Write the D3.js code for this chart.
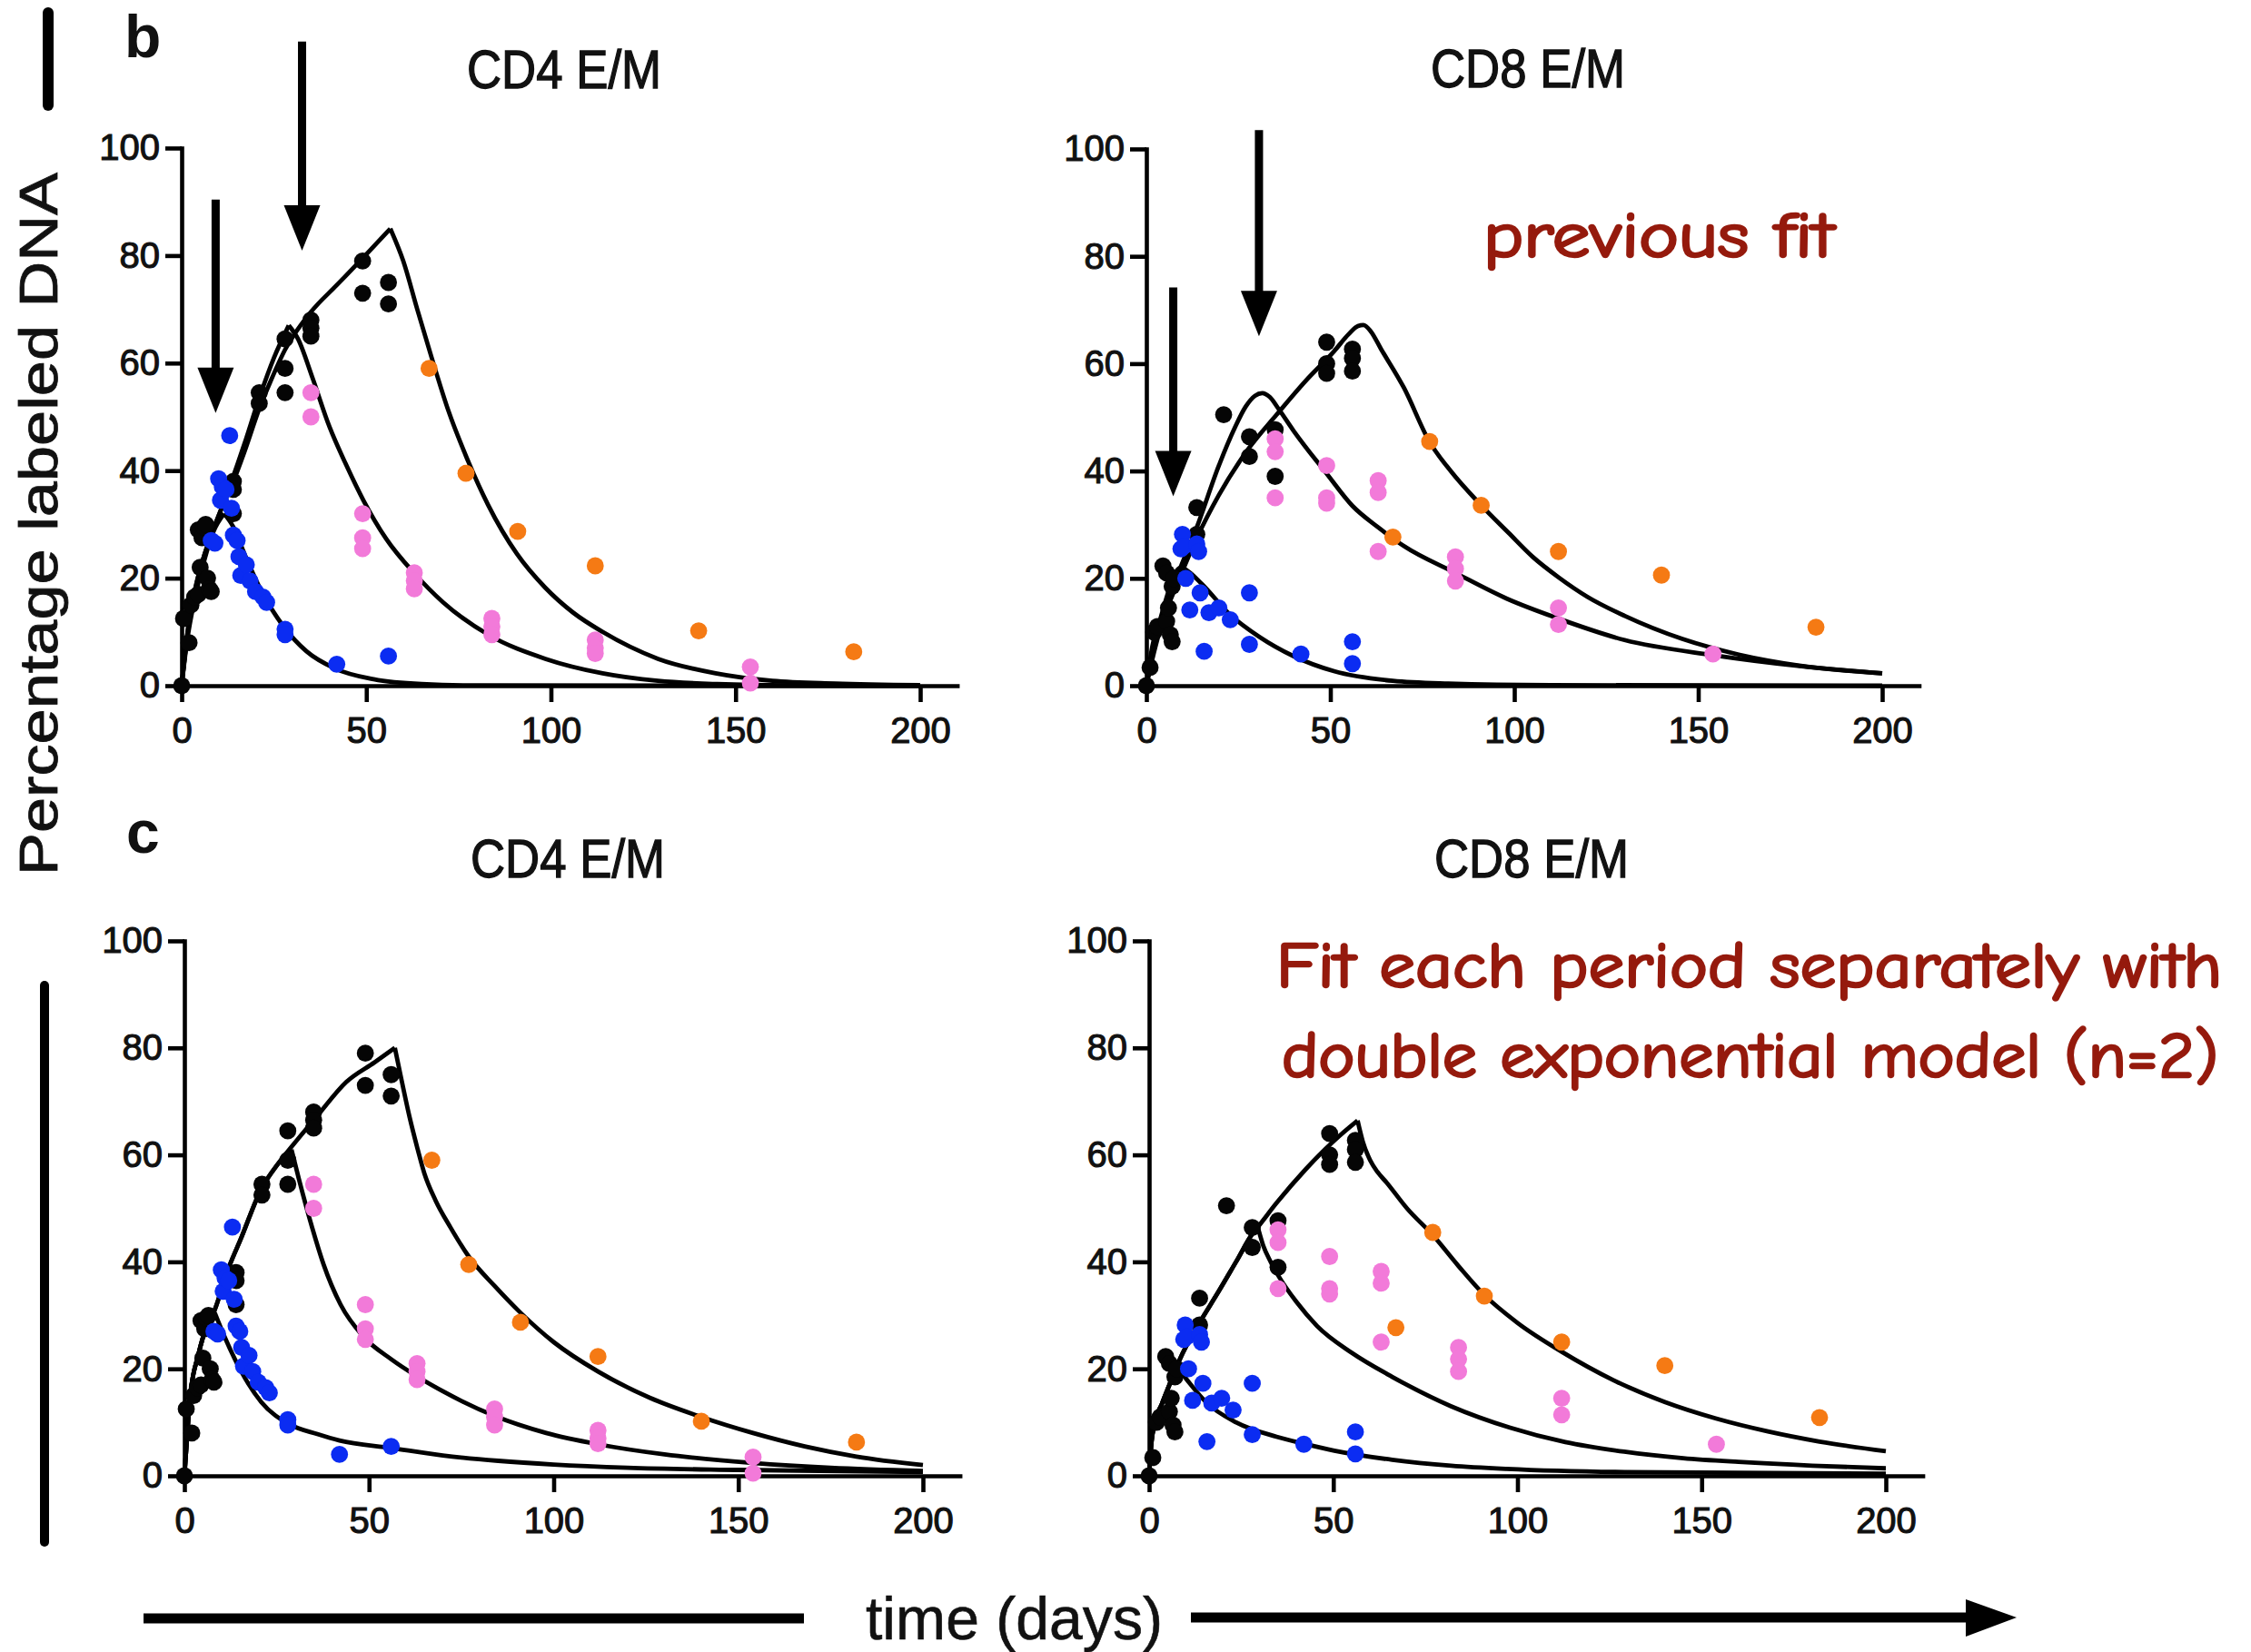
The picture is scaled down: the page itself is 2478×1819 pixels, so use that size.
<!DOCTYPE html>
<html>
<head>
<meta charset="utf-8">
<script src="https://cdn.jsdelivr.net/npm/d3@7"></script>
<style>
  html, body { margin: 0; padding: 0; background: #fff; }
  svg { display: block; }
</style>
</head>
<body>
<svg id="fig" width="2478" height="1819"></svg>
<script>
// ---------- axis ticks ----------
const xTicks = [0, 50, 100, 150, 200];
const yTicks = [0, 20, 40, 60, 80, 100];

// ---------- measured labelled-DNA fractions: [day, % labelled] ----------
// CD4 effector/memory
const cd4Black = [[0,0],[0.5,12.5],[2,8],[2.5,15],[3.5,16.5],[4.5,17],[4.5,29],[5,22],[5.5,27.5],[6,29.5],[6.5,30],
  [7,20],[7.5,18],[8,17.5],[14,38],[14,36.5],[14,32],[21,54.5],[21,52.5],[28,64.5],[28,59],[28,54.5],
  [35,68],[35,66.5],[35,65],[49,79],[49,73],[56,75],[56,71]];
const cd4Blue = [[8,27],[9,26.5],[10,38.5],[10.5,34.5],[11,37],[12,36.5],[13,46.5],[13.5,33],[14,28],[15,27],
  [15.5,24],[16,20.5],[17.5,22.5],[18.5,19.5],[20,17.5],[22,16.5],[23,15.5],[28,10.5],[28,9.5],[42,4],[56,5.5]];
const cd4Pink = [[35,54.5],[35,50],[49,32],[49,27.5],[49,25.5],[63,21],[63,19.5],[63,18],[84,12.5],[84,11],[84,9.5],
  [112,8.5],[112,7],[112,6],[154,3.5],[154,0.5]];
const cd4Orange = [[67,59],[77,39.5],[91,28.7],[112,22.3],[140,10.2],[182,6.3]];

// CD8 effector/memory
const cd8Black = [[0,0],[1,3.4],[2,10],[3,11],[4.5,22.3],[5.5,12],[5.5,21],[6,14.5],[6.5,9.5],[7,8.2],[7,18.5],[7.5,20],
  [13.7,33.2],[13.7,28.2],[21,50.5],[28,46.4],[28,42.7],[35,47.7],[35,39],[49,64],[49,60],[49,58.2],
  [56,62.7],[56,61],[56,58.6]];
const cd8Blue = [[9.4,25.5],[9.8,28.2],[10.2,26],[10.7,20],[11.8,14.1],[13.7,26.4],[14.2,25],[14.6,17.3],[15.7,6.4],
  [17,13.6],[19.7,14.5],[22.8,12.3],[28,17.3],[28,7.7],[42,5.9],[56,8.2],[56,4.1]];
const cd8Pink = [[35,46],[35,43.6],[35,35],[49,41],[49,35],[49,34],[63,38.2],[63,36],[63,25],[84,24],[84,21.8],[84,19.5],
  [112,14.5],[112,11.4],[154,5.9]];
const cd8Orange = [[67,27.7],[77,45.5],[91,33.6],[112,25],[140,20.6],[182,10.9]];

// ---------- model curves: [day, % labelled] ----------
// previous fit, CD4
const cd4PrevFit1 = [[0,0],[1.5,8.5],[3.5,16],[6,23],[8.5,28.5],[11.5,32],[14,29.5],[17,24.5],[21.5,17.7],[27.7,10.9],
  [33.8,6.4],[41.5,3.2],[52,1.2],[65,0.3],[80,0.05],[200,0]];
const cd4PrevFit2 = [[0,0],[2,12],[4,19],[6,24],[8,28],[10.8,33],[14,39],[17,45],[21,53.5],[25,61],[29,67],
  [31.5,64.5],[35.4,57.3],[40,48.2],[44.6,41],[49.2,34.5],[55.4,27.3],[63,20.9],[70.8,15.5],[83,9.5],[98.5,5],
  [114,2.3],[129,0.9],[145,0.3],[165,0.05],[200,0]];
const cd4PrevFit3 = [[0,0],[2,12],[4,19],[6,24],[8,28],[10.8,33],[14,38],[17,43.5],[21,51.5],[24,56.5],[28,62.5],
  [35,69.5],[42,74.5],[49,79.5],[56.5,85],[60,79],[63.8,70],[67.7,61],[72.3,51],[77,42.7],[83,33.6],[90.8,24.5],
  [98.5,18.2],[106,13.6],[114,10],[129,5],[144.6,2.3],[160,0.9],[177,0.4],[200,0.1]];

// previous fit, CD8
const cd8PrevFit1 = [[0,0],[1.6,7.3],[3.9,12.7],[6.3,18.2],[8.3,21.5],[9.5,22],[11,21.5],[15,19],[22.8,13.2],
  [30.7,9.1],[40,5.5],[51,2.7],[67,0.9],[82,0.4],[110,0.1],[200,0]];
const cd8PrevFit2 = [[0,0],[2,7],[4,12],[8.7,21],[13.7,29.5],[19.7,41],[24,48],[27,52],[29.5,54],[31.5,54.5],
  [33.5,53.8],[36,51.5],[40,47.5],[49,39.5],[56,33.5],[63,29.5],[70,26],[84,21],[98,16.2],[112,12.5],[130,8.5],
  [154,5.7],[177,3.7],[200,2.3]];
const cd8PrevFit3 = [[0,0],[2,6],[3.9,10.9],[8.7,19.5],[13.7,27.5],[19.7,35.5],[27.6,44],[35.4,50.5],[43.3,56.8],
  [51,62.3],[55,65.5],[57.5,67],[59,67.2],[61,66],[63.8,62.7],[70,55.5],[76.9,45.5],[82.7,40],[91,33.6],
  [98.4,28.5],[105,24],[112,20.2],[120,16.5],[130,13],[145.7,8.7],[161,5.8],[177,3.8],[200,2.3]];

// separate double-exponential fits, CD4
const cd4NewFit1 = [[0,0],[0.8,8],[1.5,14.5],[3.8,22.7],[6.2,28.2],[8.2,30.5],[11,25.8],[15.4,19.5],[20.8,13.8],
  [28.5,9.6],[36,7.8],[42,6.6],[56,5.2],[70,3.8],[85,2.8],[100,2.1],[120,1.5],[150,1.1],[200,0.7]];
const cd4NewFit2 = [[0,0],[0.8,8],[1.5,14.5],[3.8,22.7],[6.2,28.2],[8.2,31],[11.5,38],[15.4,44.5],[20.8,53.6],
  [25,58],[29,61],[31,55.5],[34.6,46.4],[37.7,39.5],[42.3,32],[48.5,26],[56,21.8],[63,18.6],[70,15.8],[84,11.2],
  [98,8],[112,5.9],[130,4],[154,2.4],[175,1.5],[200,0.9]];
const cd4NewFit3 = [[0,0],[0.8,8],[1.5,14.5],[3.8,22.7],[6.2,28.2],[8.2,31],[11.5,38],[15.4,44.5],[20.8,53.6],
  [25,58],[29,61.5],[36,67.3],[43.8,73.6],[51.5,77.3],[57,80],[58.5,75],[61,67],[63,61.5],[65,56.5],[68,51.5],
  [72,46.5],[77,41],[84,35.5],[91,30.5],[100,25],[112,19.5],[126,14.6],[140,11],[154,8],[168,5.5],[182,3.6],[200,2]];

// separate double-exponential fits, CD8
const cd8NewFit1 = [[0,0],[0.6,6],[1.6,10],[3.5,13.5],[5.5,17],[7.5,20.5],[11,17.3],[15.7,13.6],[23.6,10],
  [34.6,7.3],[42,6],[50.3,4.7],[66,3],[82,1.9],[97,1.3],[129,0.7],[200,0.4]];
const cd8NewFit2 = [[0,0],[0.6,6],[1.6,10],[3.5,13.5],[5.5,17],[7.5,20.5],[11,25.5],[14,29],[18.9,34.5],[23.6,40],
  [28.3,45.5],[29.5,46.5],[31,43],[33,40],[35,37.5],[40,32.5],[45.6,28],[55,23],[66,18.5],[82,13],[98,9],
  [113,6.3],[129,4.5],[145,3.3],[160,2.6],[180,1.9],[200,1.4]];
const cd8NewFit3 = [[0,0],[0.6,6],[1.6,10],[3.5,13.5],[5.5,17],[7.5,20.5],[11,25.5],[14,29],[18.9,34.5],[23.6,40],
  [28.3,45.5],[29.5,46.5],[34.6,51],[42.5,57.3],[50.3,62.7],[56.6,66.4],[58,62.5],[60,59],[62,56.8],[64.5,54.8],
  [70,50],[77,45],[84,39.2],[91,33.8],[100,28.6],[112,23.2],[126,17.9],[140,13.8],[154,10.7],[168,8.3],
  [182,6.4],[200,4.6]];

// arrows marking the labelling periods: [day, top value, tip value]
const cd4Arrows = [[9.2, 90.4, 50.7], [32.6, 119.8, 80.9]];
const cd8Arrows = [[7.3, 74.2, 35.3], [30.6, 103.5, 65.1]];

// ---------- styling ----------
const seriesColors = ['#050505', '#0b2cf2', '#f27ad9', '#f57a14'];
const sansFont = "'Liberation Sans', Arial, Helvetica, sans-serif";
const noteFont = "'Comic Sans MS', 'Comic Neue', 'Noto Sans', sans-serif";
const noteColor = '#951a0d';
const inkColor = '#111';

const svg = d3.select('#fig');
svg.append('rect').attr('width', 2478).attr('height', 1819).attr('fill', '#fff');

const cd4Series = [cd4Black, cd4Blue, cd4Pink, cd4Orange];
const cd8Series = [cd8Black, cd8Blue, cd8Pink, cd8Orange];

const panels = [
  { x0: 200,  x200: 1013, y0: 755,  y100: 163,  title: 'CD4 E/M', titleX: 621,  titleY: 97,
    series: cd4Series, fits: [cd4PrevFit1, cd4PrevFit2, cd4PrevFit3], sharp: true,  arrows: cd4Arrows },
  { x0: 1262, x200: 2072, y0: 755,  y100: 164,  title: 'CD8 E/M', titleX: 1682, titleY: 96,
    series: cd8Series, fits: [cd8PrevFit1, cd8PrevFit2, cd8PrevFit3], sharp: false, arrows: cd8Arrows },
  { x0: 203,  x200: 1016, y0: 1625, y100: 1036, title: 'CD4 E/M', titleX: 625,  titleY: 966,
    series: cd4Series, fits: [cd4NewFit1, cd4NewFit2, cd4NewFit3], sharp: true,  arrows: [] },
  { x0: 1265, x200: 2076, y0: 1625, y100: 1036, title: 'CD8 E/M', titleX: 1686, titleY: 966,
    series: cd8Series, fits: [cd8NewFit1, cd8NewFit2, cd8NewFit3], sharp: true,  arrows: [] }
];

const AXIS_W = 4.6;

// slightly heavier text strokes, like the printed Arial
function ink(sel, w) {
  return sel.attr('fill', inkColor).attr('stroke', inkColor).attr('stroke-width', w).attr('paint-order', 'stroke');
}

panels.forEach(p => {
  const x = d3.scaleLinear().domain([0, 210]).range([p.x0, p.x0 + (p.x200 - p.x0) * 1.05]);
  const y = d3.scaleLinear().domain([0, 100]).range([p.y0, p.y100]);
  const g = svg.append('g');

  // title
  ink(g.append('text')
    .attr('x', p.titleX).attr('y', p.titleY)
    .attr('text-anchor', 'middle')
    .attr('font-family', sansFont).attr('font-size', 59)
    .attr('textLength', 214).attr('lengthAdjust', 'spacingAndGlyphs')
    .text(p.title), 1.3);

  // fitted curves (drawn beneath the data points)
  const line = d3.line().x(d => x(d[0])).y(d => y(d[1])).curve(d3.curveMonotoneX);
  p.fits.forEach(fit => {
    let parts = [fit];
    if (p.sharp) {
      const iMax = d3.maxIndex(fit, d => d[1]);
      parts = [fit.slice(0, iMax + 1), fit.slice(iMax)];
    }
    parts.forEach(part => {
      g.append('path')
        .attr('d', line(part))
        .attr('fill', 'none')
        .attr('stroke', '#000')
        .attr('stroke-width', 4.8)
        .attr('stroke-linejoin', 'round');
    });
  });

  // axes
  const ax = g.append('g')
    .attr('transform', `translate(0,${p.y0})`)
    .call(d3.axisBottom(x).tickValues(xTicks).tickSize(18).tickSizeOuter(0).tickPadding(17));
  const ay = g.append('g')
    .attr('transform', `translate(${p.x0},0)`)
    .call(d3.axisLeft(y).tickValues(yTicks).tickSize(18).tickSizeOuter(0).tickPadding(6));
  [ax, ay].forEach(a => {
    a.select('.domain').attr('stroke', '#000').attr('stroke-width', AXIS_W).attr('stroke-linecap', 'square');
    a.selectAll('.tick line').attr('stroke', '#000').attr('stroke-width', AXIS_W);
    ink(a.selectAll('.tick text').attr('font-family', sansFont).attr('font-size', 40), 1.1);
  });

  // data points
  p.series.forEach((pts, i) => {
    g.append('g').selectAll('circle')
      .data(pts)
      .join('circle')
      .attr('cx', d => x(d[0]))
      .attr('cy', d => y(d[1]))
      .attr('r', 9.4)
      .attr('fill', seriesColors[i]);
  });

  // arrows
  p.arrows.forEach(a => {
    const ax0 = x(a[0]), yTop = y(a[1]), yTip = y(a[2]);
    const headH = 50, headW = 40;
    g.append('line')
      .attr('x1', ax0).attr('x2', ax0)
      .attr('y1', yTop).attr('y2', yTip - headH + 4)
      .attr('stroke', '#000').attr('stroke-width', 9);
    g.append('path')
      .attr('d', `M${ax0 - headW / 2},${yTip - headH} L${ax0 + headW / 2},${yTip - headH} L${ax0},${yTip} Z`)
      .attr('fill', '#000');
  });
});

// panel letters
svg.append('text').attr('x', 137).attr('y', 63)
  .attr('font-family', sansFont).attr('font-weight', 'bold').attr('font-size', 66).attr('fill', inkColor).text('b');
svg.append('text').attr('x', 139).attr('y', 939)
  .attr('font-family', sansFont).attr('font-weight', 'bold').attr('font-size', 66).attr('fill', inkColor).text('c');

// shared y-axis label with its bars
ink(svg.append('text')
  .attr('transform', 'translate(63,577) rotate(-90)')
  .attr('text-anchor', 'middle')
  .attr('font-family', sansFont).attr('font-size', 60)
  .attr('textLength', 774).attr('lengthAdjust', 'spacingAndGlyphs')
  .text('Percentage labeled DNA'), 0.8);
svg.append('line').attr('x1', 53).attr('x2', 53).attr('y1', 14).attr('y2', 116)
  .attr('stroke', '#000').attr('stroke-width', 12).attr('stroke-linecap', 'round');
svg.append('line').attr('x1', 49).attr('x2', 49).attr('y1', 1085).attr('y2', 1698)
  .attr('stroke', '#000').attr('stroke-width', 10).attr('stroke-linecap', 'round');

// shared x-axis label with its arrow
ink(svg.append('text')
  .attr('x', 953).attr('y', 1805)
  .attr('font-family', sansFont).attr('font-size', 66)
  .attr('textLength', 327).attr('lengthAdjust', 'spacingAndGlyphs')
  .text('time (days)'), 0.6);
svg.append('line').attr('x1', 158).attr('x2', 885).attr('y1', 1782).attr('y2', 1782)
  .attr('stroke', '#000').attr('stroke-width', 11);
svg.append('line').attr('x1', 1311).attr('x2', 2172).attr('y1', 1781).attr('y2', 1781)
  .attr('stroke', '#000').attr('stroke-width', 11);
svg.append('path').attr('d', 'M2164,1761 L2220,1781 L2164,1802 Z').attr('fill', '#000');

// notes
const notes = [
  { text: 'previous fit', x: 1633, y: 283, len: 386 },
  { text: 'Fit each period separately with', x: 1405, y: 1087, len: 1041 },
  { text: 'double exponential model (n=2)', x: 1411, y: 1186, len: 1031 }
];
notes.forEach(n => {
  svg.append('text')
    .attr('x', n.x).attr('y', n.y)
    .attr('font-family', noteFont).attr('font-size', 70)
    .attr('textLength', n.len).attr('lengthAdjust', 'spacingAndGlyphs')
    .attr('fill', noteColor)
    .attr('stroke', noteColor).attr('stroke-width', 2.6).attr('stroke-linejoin', 'round')
    .text(n.text);
});
</script>
</body>
</html>
